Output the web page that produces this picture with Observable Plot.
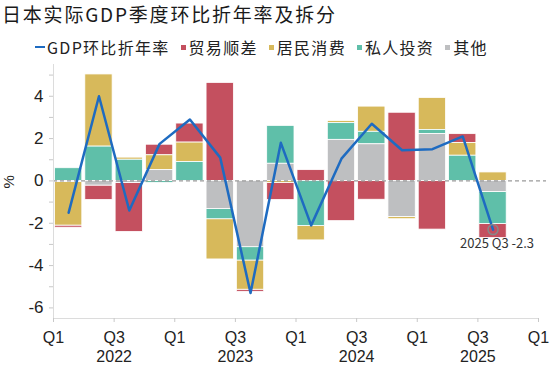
<!DOCTYPE html>
<html><head><meta charset="utf-8">
<script src="https://cdn.jsdelivr.net/npm/d3@7"></script>
<script src="https://cdn.jsdelivr.net/npm/@observablehq/plot@0.6"></script>
<style>
body{margin:0;background:#fff;width:550px;height:366px;overflow:hidden;font-family:"Noto Sans CJK SC",sans-serif;}
#title{height:28px;line-height:28px;padding-left:2px;font-size:19px;letter-spacing:1.8px;color:#1a1a1a;white-space:nowrap}
#legend{height:26px;margin-top:6px;display:flex;align-items:center;padding-left:35px;font-size:16px;letter-spacing:1.3px;color:#222;white-space:nowrap}
.item{display:flex;align-items:center;margin-right:11px}
.sw{width:5px;height:5px;margin-right:3px}
.ln{width:10px;height:2.5px;margin-right:2px}
#chart svg{display:block}
</style></head><body>
<div id="title"></div><div id="legend"></div><div id="chart"></div>
<script>
const title = "日本实际GDP季度环比折年率及拆分";
const quarters = ["2022Q1","2022Q2","2022Q3","2022Q4","2023Q1","2023Q2","2023Q3","2023Q4","2024Q1","2024Q2","2024Q3","2024Q4","2025Q1","2025Q2","2025Q3"];
const lineName = "GDP环比折年率";
const gdp = [-1.5, 4.0, -1.4, 1.75, 2.9, 1.1, -5.3, 1.8, -2.1, 1.05, 2.7, 1.45, 1.5, 2.1, -2.3];
const seriesNames = ["贸易顺差","居民消费","私人投资","其他"];
const trade       = [-0.1, -0.68, -2.31, 0.5, 0.9, 4.63, -0.1, -0.8, 0.51, -1.9, -0.89, 3.22, -2.3, 0.42, -0.67];
const consumption = [-2.06, 3.41, 0.1, 0.7, 0.92, -1.9, -1.38, -0.1, -0.68, 0.1, 1.19, -0.11, 1.51, 0.6, 0.4];
const investment  = [0.6, 1.62, 1.0, -0.1, 0.89, -0.48, -0.63, 1.79, -2.13, 0.79, 0.59, 0, 0.19, 1.19, -1.51];
const other       = [-0.05, -0.22, -0.1, 0.51, 0, -1.33, -3.13, 0.81, 0, 1.94, 1.73, -1.7, 2.22, 0, -0.52];
const colors = ["#c4505f","#d7b95b","#5fbfa9","#bebfc1"];
const lineColor = "#1e6bc1";
const yTicks = [-6,-4,-2,0,2,4];
const yMinorTicks = [-5,-3,-1,1,3,5];
const yDomain = [-6.5, 5.5];
const quarterLabels = ["Q1","Q3"];
const years = ["2022","2023","2024","2025"];
const annotation = "2025 Q3 -2.3";
const yLabel = "%";

document.getElementById("title").textContent = title;
const leg = document.getElementById("legend");
function addItem(name, color, isLine){
  const it = document.createElement("div"); it.className="item";
  const m = document.createElement("div"); m.className = isLine ? "ln" : "sw"; m.style.background = color;
  const t = document.createElement("span"); t.textContent = name;
  it.appendChild(m); it.appendChild(t); leg.appendChild(it);
}
addItem(lineName, lineColor, true);
seriesNames.forEach((s,k)=>addItem(s, colors[k], false));

const seriesValues = [trade, consumption, investment, other];
const table = [];
quarters.forEach((q,i)=>seriesNames.forEach((s,k)=>table.push({q, x1:i, x2:i+1, s, v:seriesValues[k][i]})));
const gdpData = quarters.map((q,i)=>({q, x:i+0.5, v:gdp[i]}));
const last = gdpData[gdpData.length-1];
const nQ = years.length*4;

const plot = Plot.plot({
  width:550, height:306, marginTop:4, marginBottom:48, marginLeft:53, marginRight:12,
  style:{fontFamily:'"Liberation Sans", Arial, sans-serif', fontSize:"16px", color:"#222", background:"#fff", overflow:"visible"},
  x:{domain:[0, nQ], axis:null},
  y:{domain:yDomain, axis:null},
  color:{domain:seriesNames, range:colors},
  marks:[
    Plot.rectY(table, Plot.stackY({x1:"x1", x2:"x2", y:"v", fill:"s", order:[...seriesNames].reverse(), insetLeft:1.5, insetRight:1.5, stroke:"#fff", strokeWidth:0.8})),
    Plot.ruleY([0], {stroke:"#9a9a9a", strokeDasharray:"4,3", strokeWidth:1.2, insetRight:-8}),
    Plot.ruleX([0], {stroke:"#dcdcdc"}),
    Plot.ruleY([yDomain[0]], {stroke:"#dcdcdc"}),
    Plot.axisY({ticks:yTicks, tickFormat:d=>String(d), tickSize:4, tickPadding:6, stroke:"#c8c8c8", fill:"#222", fontSize:17, label:null}),
    Plot.axisY({ticks:yMinorTicks, tickFormat:()=>"", tickSize:4, stroke:"#c8c8c8", label:null}),
    Plot.text([yLabel], {frameAnchor:"left", text:d=>d, rotate:-90, dx:-44, dy:-3, fontSize:15, fill:"#222"}),
    Plot.axisX({ticks:d3.range(0, nQ+1, 2), tickFormat:d=>quarterLabels[(d/2)%2], tickSize:4, tickPadding:9, stroke:"#c8c8c8", fill:"#222", label:null}),
    Plot.axisX({ticks:years.map((y,k)=>k*4+2), tickFormat:d=>years[(d-2)/4], tickSize:0, tickPadding:32, fill:"#222", label:null}),
    Plot.line(gdpData, {x:"x", y:"v", stroke:lineColor, strokeWidth:2.5}),
    Plot.dot([last], {x:"x", y:"v", r:5, stroke:"#888", strokeWidth:1.5, fill:"none"}),
    Plot.text([last], {x:"x", y:"v", text:()=>annotation, dy:14, dx:4, fontSize:13, fontFamily:"Noto Sans CJK SC", fill:"#333"})
  ]
});
document.getElementById("chart").appendChild(plot);
</script>
</body></html>
